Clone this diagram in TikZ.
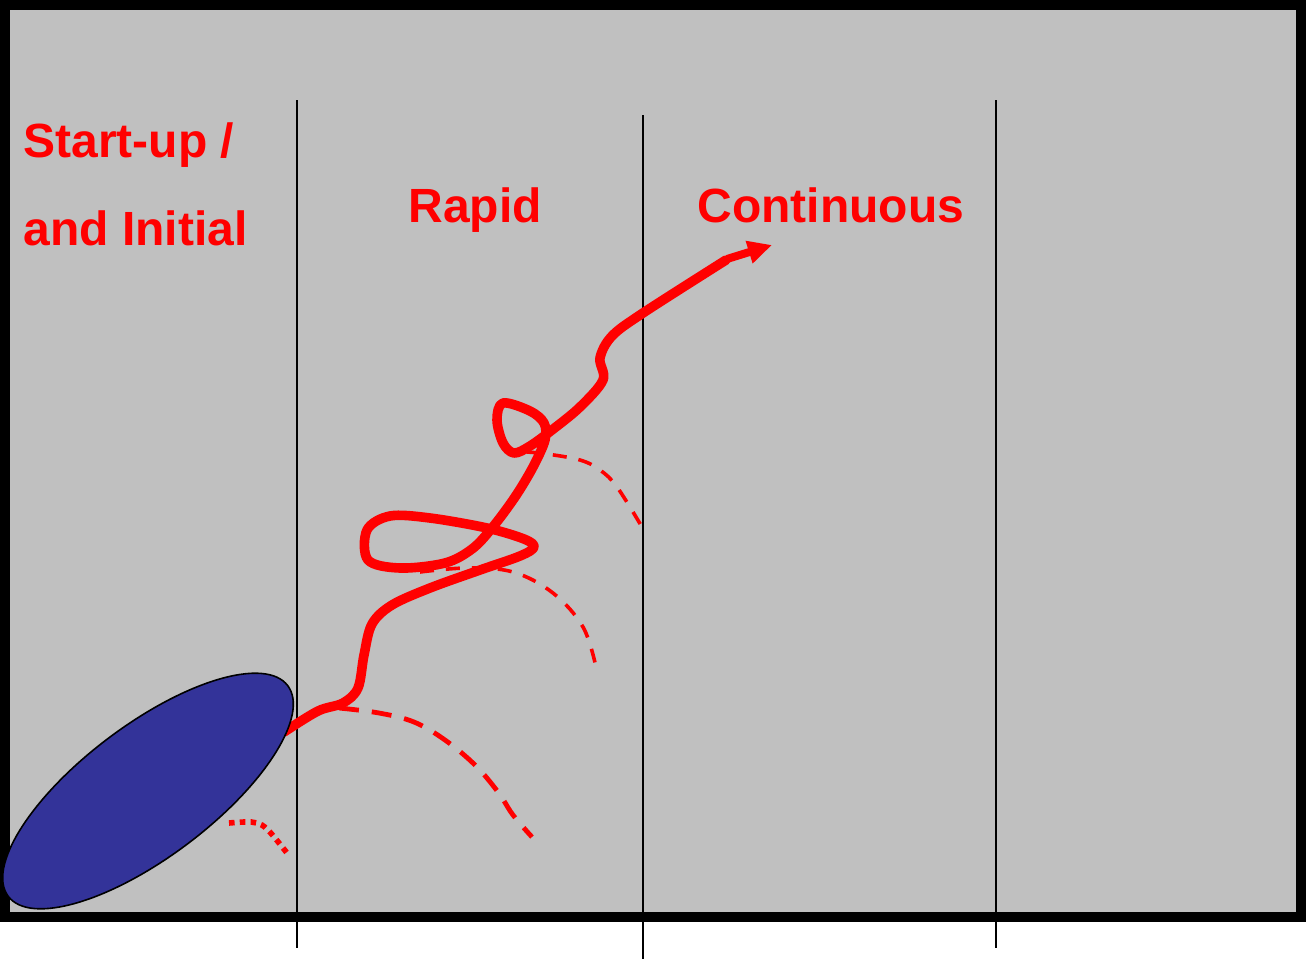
\documentclass[tikz,border=0pt]{standalone}
\usepackage{fontspec}
\setmainfont{Liberation Sans}
\usetikzlibrary{arrows.meta}
\begin{document}
\begin{tikzpicture}[x=0.5pt,y=-0.5pt,
  lbl/.style={anchor=base west,inner sep=0pt,text=red,font=\bfseries\fontsize{24}{28}\selectfont},
  divider/.style={draw=black,line width=1pt},
  path/.style={draw=red,line width=4.8pt,line cap=round,line join=round},
  bigdash/.style={draw=red,line width=2.4pt,dash pattern=on 10pt off 6.5pt},
  middash/.style={draw=red,line width=1.8pt,dash pattern=on 7pt off 6pt},
  dotarc/.style={draw=red,line width=2.8pt,dash pattern=on 2.8pt off 2.6pt}]
\useasboundingbox (0,0) rectangle (1306,959);
% frame
\draw[fill={rgb,255:red,192;green,192;blue,192},draw=black,line width=5pt] (5,5) rectangle (1301,917);
% dividers
\draw[divider] (297,100) -- (297,948);
\draw[divider] (643,115) -- (643,959);
\draw[divider] (996,100) -- (996,948);
% labels
\node[lbl] (l1) at (23,157) {Start-up /};
\node[lbl] (l2) at (23,245) {and Initial};
\node[lbl] (l3) at (408,222) {Rapid};
\node[lbl] (l4) at (697,222) {Continuous};
% dashed arcs
\draw[bigdash] plot[smooth,tension=0.6] coordinates {(339,708) (379,713) (414,722) (445,740) (475,765) (498,792) (513,815) (532,837)};
\draw[middash] plot[smooth,tension=0.6] coordinates {(420,572) (467,568) (513,572) (553,593) (583,627) (596,667)};
\draw[middash] plot[smooth,tension=0.6] coordinates {(527,452) (547,454) (580,460) (600,470) (617,487) (642,527)};
\draw[dotarc] plot[smooth,tension=0.6] coordinates {(229,823) (245,822) (257,823) (268,830) (287,853)};
% main path
\draw[path] plot[smooth,tension=0.55] coordinates {(284,732) (318,711) (343,703) (358,688) (364,655) (372,624) (392,605) (430,588) (480,570) (520,556) (534,547) (524,539) (487,528) (430,518) (390,516) (367,530) (368,560) (400,568) (445,563) (472,549) (492,528) (515,497) (533,467) (545,440) (544,423) (530,411) (503,403) (497,420) (503,443) (514,453) (530,446) (552,430) (580,407) (603,380) (600,358) (612,336) (643,313) (726,260)};
\draw[draw=red,line width=4pt,-{Triangle[length=12pt,width=11pt]}] (727,259) -- (772,245);
% ellipse
\draw[fill={rgb,255:red,51;green,51;blue,153},draw=black,line width=0.8pt,rotate around={37:(148,791)}] (148,791) ellipse [x radius=175, y radius=66];
\end{tikzpicture}
\end{document}
